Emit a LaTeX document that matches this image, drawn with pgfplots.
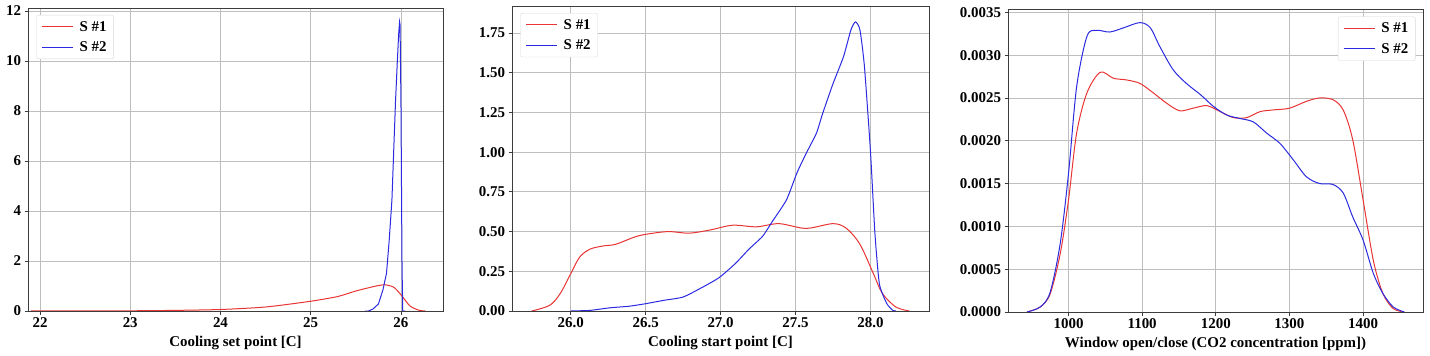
\documentclass[border=0pt]{standalone}
\usepackage{pgfplots}
\pgfplotsset{compat=1.18}
\usepackage{fontspec}
\setmainfont{Liberation Serif}
\definecolor{cred}{RGB}{232,52,52}
\definecolor{cblue}{RGB}{42,42,225}
\definecolor{gridc}{RGB}{190,190,190}
\definecolor{framec}{RGB}{60,60,60}
\pgfplotsset{legend image code/.code={\draw[#1] (0cm,0cm) -- (1.1cm,0cm);}}
\pgfplotsset{
  kde/.style={
    scale only axis,
    anchor=south west,
    axis line style={framec, line width=0.9bp},
    grid=major,
    major grid style={gridc, line width=0.8bp},
    tick align=outside,
    major tick length=3.5bp,
    tick style={framec, line width=0.8bp},
    xtick pos=bottom, ytick pos=left,
    tick label style={font=\bfseries\fontsize{15}{15}\selectfont},
    /pgf/number format/assume math mode=true,
    label style={font=\bfseries\fontsize{15}{16}\selectfont},
    xlabel style={yshift=-1bp},
    legend style={font=\bfseries\fontsize{15}{16}\selectfont, draw=gridc!60, fill=white, rounded corners=2bp, inner xsep=5bp, inner ysep=4bp, row sep=5bp, column sep=4bp},
    legend cell align=left,
  },
  s1/.style={cred, line width=1bp},
  s2/.style={cblue, line width=1bp},
}
\begin{document}
\begin{tikzpicture}
\useasboundingbox (0,0) rectangle (1430bp,356bp);
% Panel 1
\begin{axis}[kde, at={(28bp,45bp)}, width=415bp, height=303bp,
  xmin=21.867, xmax=26.466, ymin=0, ymax=12.12,
  xtick={22,23,24,25,26}, ytick={0,2,4,6,8,10,12},
  xlabel={Cooling set point [C]},
  legend style={at={(0.02,0.977)}, anchor=north west}]
\addplot[s1, smooth, tension=0.4] coordinates {
(21.9,0.0) (22.5,0.001) (23.0,0.008) (23.5,0.025) (24.0,0.06) (24.5,0.16) (25.0,0.39) (25.3,0.58) (25.5,0.8) (25.7,0.98) (25.82,1.05) (25.92,0.95) (26.0,0.65) (26.1,0.2) (26.2,0.03) (26.27,0.0)
};
\addlegendentry{S \#1}
\addplot[s2] coordinates {
(25.6,0.0) (25.64,0.0) (25.69,0.08) (25.75,0.28) (25.80,0.84) (25.84,1.51) (25.87,2.84) (25.90,4.44) (25.92,6.44) (25.94,8.4) (25.96,10.0) (25.975,11.1) (25.985,11.57) (25.99,11.45) (26.0,8.4) (26.007,4.4) (26.012,1.75) (26.02,0.0) (26.05,0.0)
};
\addlegendentry{S \#2}
\end{axis}
% Panel 2
\begin{axis}[kde, at={(512bp,45bp)}, width=417bp, height=305bp,
  xmin=25.608, xmax=28.391, ymin=0, ymax=1.92,
  xtick={26,26.5,27,27.5,28}, ytick={0,0.25,0.5,0.75,1,1.25,1.5,1.75},
  xticklabel style={/pgf/number format/.cd, fixed, fixed zerofill, precision=1},
  yticklabel style={/pgf/number format/.cd, fixed, fixed zerofill, precision=2},
  xlabel={Cooling start point [C]},
  legend style={at={(0.02,0.977)}, anchor=north west}]
\addplot[s1, smooth, tension=0.5] coordinates {
(25.74,0.0) (25.86,0.036) (25.93,0.11) (26.0,0.235) (26.06,0.34) (26.13,0.39) (26.22,0.41) (26.3,0.42) (26.44,0.47) (26.55,0.49) (26.66,0.50) (26.79,0.49) (26.93,0.51) (27.08,0.54) (27.24,0.53) (27.39,0.55) (27.57,0.52) (27.75,0.55) (27.84,0.52) (27.93,0.42) (28.02,0.235) (28.08,0.11) (28.17,0.025) (28.26,0.0)
};
\addlegendentry{S \#1}
\addplot[s2, smooth, tension=0.35] coordinates {
(26.0,0.0) (26.13,0.004) (26.26,0.02) (26.39,0.03) (26.5,0.046) (26.62,0.067) (26.75,0.088) (26.88,0.15) (26.99,0.21) (27.1,0.30) (27.19,0.39) (27.28,0.47) (27.35,0.57) (27.44,0.70) (27.51,0.87) (27.57,0.99) (27.64,1.12) (27.68,1.24) (27.75,1.43) (27.82,1.60) (27.87,1.77) (27.9,1.82) (27.93,1.77) (27.96,1.54) (28.0,1.01) (28.03,0.49) (28.06,0.17) (28.11,0.046) (28.15,0.004) (28.17,0.0)
};
\addlegendentry{S \#2}
\end{axis}
% Panel 3
\begin{axis}[kde, at={(1008bp,44bp)}, width=415bp, height=303bp,
  xmin=917.8, xmax=1481.4, ymin=0, ymax=0.003539,
  xtick={1000,1100,1200,1300,1400}, ytick={0,0.0005,0.001,0.0015,0.002,0.0025,0.003,0.0035},
  scaled y ticks=false,
  xticklabel style={/pgf/number format/.cd, 1000 sep={}},
  yticklabel style={/pgf/number format/.cd, fixed, fixed zerofill, precision=4},
  xlabel={Window open/close (CO2 concentration [ppm])},
  legend style={at={(0.982,0.975)}, anchor=north east}]
\addplot[s1, smooth, tension=0.5] coordinates {
(943.5,0) (961.6,0.0000585) (975,0.00021) (988.7,0.00068) (1000,0.00131) (1011,0.00209) (1025,0.00256) (1043,0.0028) (1061,0.00273) (1079,0.00271) (1097,0.00267) (1115,0.00256) (1133,0.00244) (1151,0.00235) (1169,0.00238) (1188,0.00241) (1206,0.00234) (1224,0.00227) (1242,0.00227) (1260,0.00234) (1278,0.00236) (1300,0.00238) (1323,0.00246) (1341,0.0025) (1359,0.00248) (1373,0.00236) (1386,0.00201) (1400,0.00131) (1414,0.0006) (1427,0.000215) (1441,0.00004) (1456,0)
};
\addlegendentry{S \#1}
\addplot[s2, smooth, tension=0.5] coordinates {
(943.5,0) (961.6,0.0000585) (975,0.00023) (988.7,0.0008) (1000,0.00162) (1011,0.00263) (1025,0.00322) (1038,0.00329) (1056,0.00327) (1075,0.00332) (1097,0.00338) (1111,0.00332) (1124,0.0031) (1142,0.00283) (1160,0.00267) (1179,0.00254) (1197,0.0024) (1215,0.0023) (1233,0.00226) (1251,0.00222) (1269,0.00209) (1287,0.00197) (1305,0.00178) (1323,0.00158) (1341,0.0015) (1359,0.00149) (1373,0.00139) (1386,0.00111) (1400,0.00084) (1414,0.00045) (1427,0.000215) (1441,0.0000585) (1456,0)
};
\addlegendentry{S \#2}
\end{axis}
\end{tikzpicture}
\end{document}
